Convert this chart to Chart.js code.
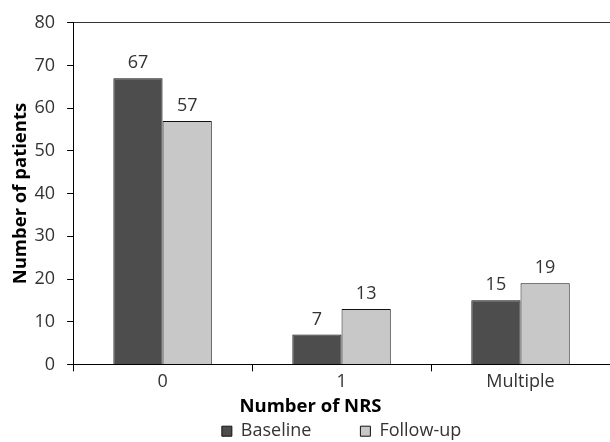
<!DOCTYPE html>
<html>
<head>
<meta charset="utf-8">
<script src="https://cdn.jsdelivr.net/npm/chart.js@4"></script>
<style>
  html, body { margin: 0; padding: 0; background: #fff; }
  #wrap { width: 610px; height: 442px; position: relative; }
</style>
</head>
<body>
<div id="wrap"><canvas id="chart"></canvas></div>
<script>
// data
const categories = ['0', '1', 'Multiple'];
const baseline = [67, 7, 15];
const followUp = [57, 13, 19];
const yTicksMax = 80;

const FONT = '"Open Sans", "Noto Sans", sans-serif';

// value labels above each bar
const barValues = {
    id: 'barValues',
    afterDatasetsDraw(chart) {
        const ctx = chart.ctx;
        ctx.save();
        ctx.font = '18px ' + FONT;
        ctx.fillStyle = '#333';
        ctx.textAlign = 'center';
        ctx.textBaseline = 'bottom';
        chart.data.datasets.forEach((ds, i) => {
            chart.getDatasetMeta(i).data.forEach((bar, j) => {
                ctx.fillText(String(ds.data[j]), bar.x, bar.y - 6);
            });
        });
        ctx.restore();
    }
};

// legend reserves little height (maxHeight) but may draw down to the canvas edge
const legendRoom = {
    id: 'legendRoom',
    afterLayout(chart) {
        const lg = chart.legend;
        if (!lg) return;
        lg.bottom = chart.height;
        lg.height = lg.bottom - lg.top;
    }
};

new Chart(document.getElementById('chart'), {
    type: 'bar',
    data: {
        labels: categories,
        datasets: [
            {
                label: 'Baseline',
                data: baseline,
                backgroundColor: '#4d4d4d',
                borderColor: '#111',
                borderWidth: 1
            },
            {
                label: 'Follow-up',
                data: followUp,
                backgroundColor: '#c8c8c8',
                borderColor: '#111',
                borderWidth: 1
            }
        ]
    },
    plugins: [barValues, legendRoom],
    options: {
        responsive: true,
        maintainAspectRatio: false,
        animation: false,
        layout: { padding: { left: 11, top: 12, right: 0, bottom: 0 } },
        datasets: {
            bar: { categoryPercentage: 0.55, barPercentage: 1 }
        },
        plugins: {
            tooltip: { enabled: false },
            title: {
                display: true,
                text: 'Number of NRS',
                position: 'bottom',
                weight: 500,
                color: '#000',
                font: { family: FONT, size: 18.5, weight: 'bold' },
                padding: { top: 3, bottom: -45 }
            },
            legend: {
                position: 'bottom',
                fullSize: false,
                maxHeight: 49,
                labels: {
                    boxWidth: 10,
                    boxHeight: 10,
                    padding: 49,
                    color: '#333',
                    font: { family: FONT, size: 18 }
                }
            }
        },
        scales: {
            x: {
                grid: {
                    drawOnChartArea: false,
                    tickColor: '#000',
                    tickLength: 7
                },
                border: { color: '#000', width: 1 },
                ticks: {
                    color: '#333',
                    padding: 0,
                    font: { family: FONT, size: 18 }
                }
            },
            y: {
                min: 0,
                max: yTicksMax,
                grid: {
                    color: c => (c.tick && c.tick.value === yTicksMax) ? '#333' : 'rgba(0,0,0,0)',
                    tickColor: '#000',
                    tickLength: 6
                },
                border: { color: '#000', width: 1 },
                ticks: {
                    stepSize: 10,
                    color: '#333',
                    padding: 12,
                    font: { family: FONT, size: 18 }
                },
                title: {
                    display: true,
                    text: 'Number of patients',
                    color: '#000',
                    font: { family: FONT, size: 18.5, weight: 'bold', lineHeight: 1 },
                    padding: { top: 0, bottom: -7 }
                }
            }
        }
    }
});
</script>
</body>
</html>
